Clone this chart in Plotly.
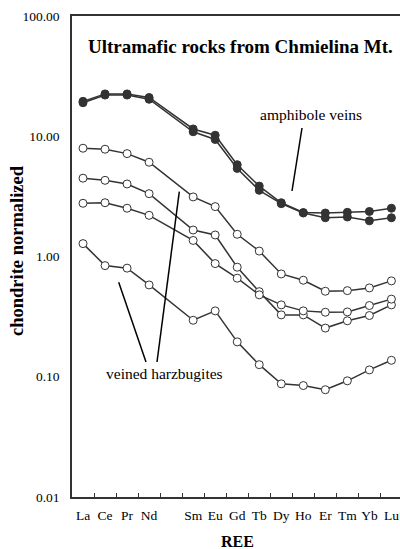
import plotly.graph_objects as go

ree = ["La", "Ce", "Pr", "Nd", "Pm", "Sm", "Eu", "Gd", "Tb", "Dy", "Ho", "Er", "Tm", "Yb", "Lu"]
tick_text = ["La", "Ce", "Pr", "Nd", "", "Sm", "Eu", "Gd", "Tb", "Dy", "Ho", "Er", "Tm", "Yb", "Lu"]

amph_vein_1 = [19.5, 22.5, 22.5, 21.0, None, 11.5, 10.2, 5.8, 3.85, 2.8, 2.32, 2.3, 2.33, 2.37, 2.52]
amph_vein_2 = [19.0, 22.0, 22.0, 20.3, None, 10.9, 9.4, 5.4, 3.55, 2.75, 2.3, 2.1, 2.13, 1.98, 2.1]

harz_1 = [7.95, 7.8, 7.17, 6.08, None, 3.13, 2.6, 1.53, 1.11, 0.716, 0.635, 0.514, 0.52, 0.548, 0.627]
harz_2 = [4.48, 4.3, 4.01, 3.33, None, 1.66, 1.51, 0.815, 0.51, 0.327, 0.327, 0.254, 0.292, 0.323, 0.396]
harz_3 = [2.77, 2.8, 2.52, 2.2, None, 1.36, 0.873, 0.66, 0.48, 0.396, 0.353, 0.344, 0.346, 0.391, 0.442]
harz_4 = [1.28, 0.84, 0.80, 0.58, None, 0.295, 0.353, 0.195, 0.126, 0.0873, 0.0845, 0.078, 0.0925, 0.114, 0.137]

y_tickvals = [0.01, 0.1, 1, 10, 100]
y_ticktext = ["0.01", "0.10", "1.00", "10.00", "100.00"]

LINE = "#333333"
FONT = "'Liberation Serif', 'Times New Roman', 'DejaVu Serif', serif"

fig = go.Figure()
for s in [harz_1, harz_2, harz_3, harz_4]:
    fig.add_trace(go.Scatter(
        x=ree, y=s, mode="lines+markers", connectgaps=True,
        line=dict(color=LINE, width=1.5),
        marker=dict(size=8, color="white", line=dict(color=LINE, width=1)),
        showlegend=False, hoverinfo="skip"))
for s in [amph_vein_1, amph_vein_2]:
    fig.add_trace(go.Scatter(
        x=ree, y=s, mode="lines+markers", connectgaps=True,
        line=dict(color=LINE, width=1.5),
        marker=dict(size=8, color=LINE, line=dict(color=LINE, width=1)),
        showlegend=False, hoverinfo="skip"))

fig.update_layout(
    width=400, height=549,
    margin=dict(l=72, r=0, t=16, b=52),
    paper_bgcolor="white", plot_bgcolor="white",
    font=dict(family=FONT, size=13.5, color="#000000"),
    xaxis=dict(
        type="category", categoryorder="array", categoryarray=ree,
        tickmode="array", tickvals=ree, ticktext=tick_text, tickangle=0,
        tickson="boundaries", ticks="inside", ticklen=4, tickcolor=LINE, tickwidth=1,
        range=[-0.5, 14.39], showgrid=False, zeroline=False, automargin=False,
        showline=True, linecolor=LINE, linewidth=1.5, mirror=True,
        ticklabelstandoff=5, tickfont=dict(family=FONT, size=13.5),
    ),
    yaxis=dict(
        type="log", range=[-2, 2], automargin=False,
        tickmode="array", tickvals=y_tickvals, ticktext=y_ticktext,
        ticks="outside", ticklen=8, tickcolor="rgba(0,0,0,0)",
        showgrid=False, zeroline=False,
        showline=True, linecolor=LINE, linewidth=1.5,
        tickfont=dict(family=FONT, size=13.5),
    ),
)

def px_x(p):
    return (p - 72) / 328.0

def px_y(p):
    return (497 - p) / 481.0

annots = [
    dict(text="<b>Ultramafic rocks from Chmielina Mt.</b>", x=px_x(240), y=px_y(46), size=19),
    dict(text="amphibole veins", x=px_x(311), y=px_y(114), size=15.5),
    dict(text="veined harzbugites", x=px_x(164), y=px_y(374), size=15.5),
    dict(text="<b>REE</b>", x=px_x(237), y=px_y(541.5), size=16),
]
for a in annots:
    fig.add_annotation(text=a["text"], x=a["x"], y=a["y"], xref="paper", yref="paper",
                       showarrow=False, xanchor="center", yanchor="middle",
                       font=dict(family=FONT, size=a["size"], color="#000000"))
fig.add_annotation(text="<b>chondrite normalized</b>", x=px_x(17), y=px_y(251),
                   xref="paper", yref="paper", showarrow=False, textangle=-90,
                   xanchor="center", yanchor="middle",
                   font=dict(family=FONT, size=18.5, color="#000000"))

pointer_lines = [
    ((302, 128), (292, 191)),
    ((146, 362), (118.7, 282.3)),
    ((157, 362), (179.3, 191.7)),
]
for (x0, y0), (x1, y1) in pointer_lines:
    fig.add_shape(type="line", xref="paper", yref="paper",
                  x0=px_x(x0), y0=px_y(y0), x1=px_x(x1), y1=px_y(y1),
                  line=dict(color="#000000", width=1.5))

fig.write_html("out.html", config={"displayModeBar": False},
               post_script="document.body.style.margin='0';")
